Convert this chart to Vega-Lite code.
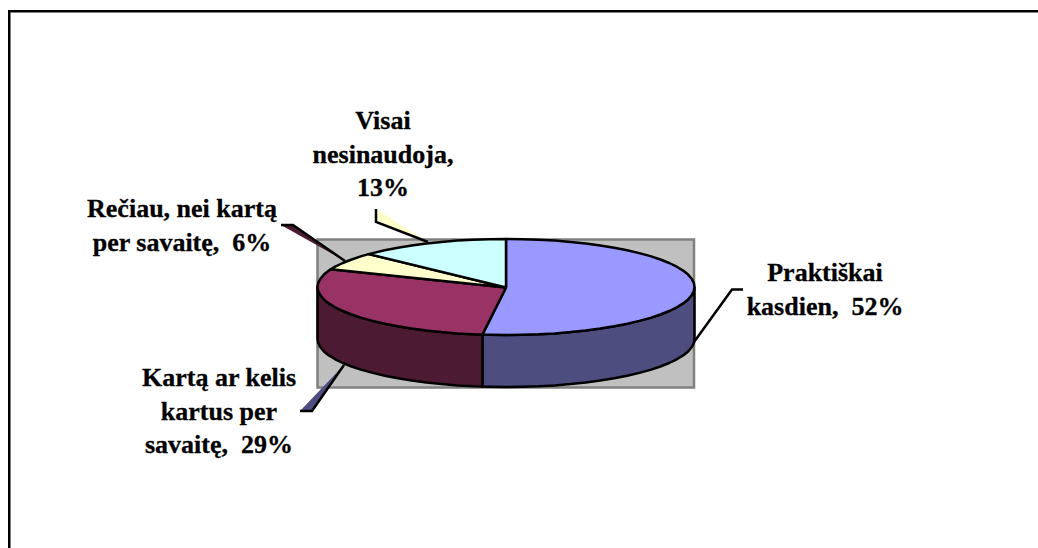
{"$schema":"https://vega.github.io/schema/vega-lite/v6.json","width":1038,"height":548,"autosize":{"type":"none"},"padding":0,"background":"white","view":{"stroke":null},
"datasets":{
"frame":[{"x":8,"x2":1038,"y":11.25,"y2":11.25},{"x":9.25,"x2":9.25,"y":10,"y2":548}],
"wall":[{"x":317.5,"x2":694,"y":239.5,"y2":387.5}],
"wedges":[
{"s":"Rečiau","i":0,"x":281,"y":225},{"s":"Rečiau","i":1,"x":293,"y":225},{"s":"Rečiau","i":2,"x":345,"y":261},{"s":"Rečiau","i":3,"x":281,"y":225},
{"s":"Visai","i":0,"x":376,"y":209},{"s":"Visai","i":1,"x":376,"y":222},{"s":"Visai","i":2,"x":428,"y":242},{"s":"Visai","i":3,"x":376,"y":209},
{"s":"Kartą","i":0,"x":300,"y":411},{"s":"Kartą","i":1,"x":312,"y":411},{"s":"Kartą","i":2,"x":344,"y":365},{"s":"Kartą","i":3,"x":300,"y":411}],
"leaders":[
{"s":"Praktiškai","i":0,"x":694,"y":342},{"s":"Praktiškai","i":1,"x":732,"y":289.5},{"s":"Praktiškai","i":2,"x":743,"y":289.5},
{"s":"Rečiau","i":0,"x":281,"y":225},{"s":"Rečiau","i":1,"x":293,"y":225},{"s":"Rečiau","i":2,"x":345,"y":261},
{"s":"Visai","i":0,"x":376,"y":209},{"s":"Visai","i":1,"x":376,"y":222},{"s":"Visai","i":2,"x":428,"y":242},
{"s":"Kartą","i":0,"x":300,"y":411},{"s":"Kartą","i":1,"x":312,"y":411},{"s":"Kartą","i":2,"x":344,"y":365}],
"sides":[
{"s":"Praktiškai kasdien","i":0,"x":694.5,"y":287},{"s":"Praktiškai kasdien","i":1,"x":693.8,"y":291.2},{"s":"Praktiškai kasdien","i":2,"x":691.6,"y":295.3},{"s":"Praktiškai kasdien","i":3,"x":688.1,"y":299.4},{"s":"Praktiškai kasdien","i":4,"x":683.1,"y":303.4},{"s":"Praktiškai kasdien","i":5,"x":676.8,"y":307.3},{"s":"Praktiškai kasdien","i":6,"x":669.2,"y":311},{"s":"Praktiškai kasdien","i":7,"x":660.4,"y":314.5},{"s":"Praktiškai kasdien","i":8,"x":650.4,"y":317.9},{"s":"Praktiškai kasdien","i":9,"x":639.3,"y":320.9},{"s":"Praktiškai kasdien","i":10,"x":627.2,"y":323.8},{"s":"Praktiškai kasdien","i":11,"x":614.1,"y":326.3},{"s":"Praktiškai kasdien","i":12,"x":600.3,"y":328.6},{"s":"Praktiškai kasdien","i":13,"x":585.7,"y":330.5},{"s":"Praktiškai kasdien","i":14,"x":570.5,"y":332.1},{"s":"Praktiškai kasdien","i":15,"x":554.8,"y":333.4},{"s":"Praktiškai kasdien","i":16,"x":538.7,"y":334.3},{"s":"Praktiškai kasdien","i":17,"x":522.4,"y":334.8},{"s":"Praktiškai kasdien","i":18,"x":506,"y":335},{"s":"Praktiškai kasdien","i":19,"x":489.6,"y":334.8},{"s":"Praktiškai kasdien","i":20,"x":482.4,"y":334.6},
{"s":"Praktiškai kasdien","i":21,"x":482.4,"y":386.6},{"s":"Praktiškai kasdien","i":22,"x":489.6,"y":386.8},{"s":"Praktiškai kasdien","i":23,"x":506,"y":387},{"s":"Praktiškai kasdien","i":24,"x":522.4,"y":386.8},{"s":"Praktiškai kasdien","i":25,"x":538.7,"y":386.3},{"s":"Praktiškai kasdien","i":26,"x":554.8,"y":385.4},{"s":"Praktiškai kasdien","i":27,"x":570.5,"y":384.1},{"s":"Praktiškai kasdien","i":28,"x":585.7,"y":382.5},{"s":"Praktiškai kasdien","i":29,"x":600.3,"y":380.6},{"s":"Praktiškai kasdien","i":30,"x":614.1,"y":378.3},{"s":"Praktiškai kasdien","i":31,"x":627.2,"y":375.8},{"s":"Praktiškai kasdien","i":32,"x":639.3,"y":372.9},{"s":"Praktiškai kasdien","i":33,"x":650.4,"y":369.9},{"s":"Praktiškai kasdien","i":34,"x":660.4,"y":366.5},{"s":"Praktiškai kasdien","i":35,"x":669.2,"y":363},{"s":"Praktiškai kasdien","i":36,"x":676.8,"y":359.3},{"s":"Praktiškai kasdien","i":37,"x":683.1,"y":355.4},{"s":"Praktiškai kasdien","i":38,"x":688.1,"y":351.4},{"s":"Praktiškai kasdien","i":39,"x":691.6,"y":347.3},{"s":"Praktiškai kasdien","i":40,"x":693.8,"y":343.2},{"s":"Praktiškai kasdien","i":41,"x":694.5,"y":339},{"s":"Praktiškai kasdien","i":42,"x":694.5,"y":287},
{"s":"Kartą ar kelis kartus per savaitę","i":0,"x":482.4,"y":334.6},{"s":"Kartą ar kelis kartus per savaitę","i":1,"x":473.3,"y":334.3},{"s":"Kartą ar kelis kartus per savaitę","i":2,"x":457.2,"y":333.4},{"s":"Kartą ar kelis kartus per savaitę","i":3,"x":441.5,"y":332.1},{"s":"Kartą ar kelis kartus per savaitę","i":4,"x":426.3,"y":330.5},{"s":"Kartą ar kelis kartus per savaitę","i":5,"x":411.7,"y":328.6},{"s":"Kartą ar kelis kartus per savaitę","i":6,"x":397.9,"y":326.3},{"s":"Kartą ar kelis kartus per savaitę","i":7,"x":384.8,"y":323.8},{"s":"Kartą ar kelis kartus per savaitę","i":8,"x":372.7,"y":320.9},{"s":"Kartą ar kelis kartus per savaitę","i":9,"x":361.6,"y":317.9},{"s":"Kartą ar kelis kartus per savaitę","i":10,"x":351.6,"y":314.5},{"s":"Kartą ar kelis kartus per savaitę","i":11,"x":342.8,"y":311},{"s":"Kartą ar kelis kartus per savaitę","i":12,"x":335.2,"y":307.3},{"s":"Kartą ar kelis kartus per savaitę","i":13,"x":328.9,"y":303.4},{"s":"Kartą ar kelis kartus per savaitę","i":14,"x":323.9,"y":299.4},{"s":"Kartą ar kelis kartus per savaitę","i":15,"x":320.4,"y":295.3},{"s":"Kartą ar kelis kartus per savaitę","i":16,"x":318.2,"y":291.2},{"s":"Kartą ar kelis kartus per savaitę","i":17,"x":317.5,"y":287},
{"s":"Kartą ar kelis kartus per savaitę","i":18,"x":317.5,"y":339},{"s":"Kartą ar kelis kartus per savaitę","i":19,"x":318.2,"y":343.2},{"s":"Kartą ar kelis kartus per savaitę","i":20,"x":320.4,"y":347.3},{"s":"Kartą ar kelis kartus per savaitę","i":21,"x":323.9,"y":351.4},{"s":"Kartą ar kelis kartus per savaitę","i":22,"x":328.9,"y":355.4},{"s":"Kartą ar kelis kartus per savaitę","i":23,"x":335.2,"y":359.3},{"s":"Kartą ar kelis kartus per savaitę","i":24,"x":342.8,"y":363},{"s":"Kartą ar kelis kartus per savaitę","i":25,"x":351.6,"y":366.5},{"s":"Kartą ar kelis kartus per savaitę","i":26,"x":361.6,"y":369.9},{"s":"Kartą ar kelis kartus per savaitę","i":27,"x":372.7,"y":372.9},{"s":"Kartą ar kelis kartus per savaitę","i":28,"x":384.8,"y":375.8},{"s":"Kartą ar kelis kartus per savaitę","i":29,"x":397.9,"y":378.3},{"s":"Kartą ar kelis kartus per savaitę","i":30,"x":411.7,"y":380.6},{"s":"Kartą ar kelis kartus per savaitę","i":31,"x":426.3,"y":382.5},{"s":"Kartą ar kelis kartus per savaitę","i":32,"x":441.5,"y":384.1},{"s":"Kartą ar kelis kartus per savaitę","i":33,"x":457.2,"y":385.4},{"s":"Kartą ar kelis kartus per savaitę","i":34,"x":473.3,"y":386.3},{"s":"Kartą ar kelis kartus per savaitę","i":35,"x":482.4,"y":386.6},{"s":"Kartą ar kelis kartus per savaitę","i":36,"x":482.4,"y":334.6}],
"tops":[
{"s":"Praktiškai kasdien","i":0,"x":506,"y":287.5},{"s":"Praktiškai kasdien","i":1,"x":506,"y":239},{"s":"Praktiškai kasdien","i":2,"x":522.4,"y":239.2},{"s":"Praktiškai kasdien","i":3,"x":538.7,"y":239.7},{"s":"Praktiškai kasdien","i":4,"x":554.8,"y":240.6},{"s":"Praktiškai kasdien","i":5,"x":570.5,"y":241.9},{"s":"Praktiškai kasdien","i":6,"x":585.7,"y":243.5},{"s":"Praktiškai kasdien","i":7,"x":600.3,"y":245.4},{"s":"Praktiškai kasdien","i":8,"x":614.1,"y":247.7},{"s":"Praktiškai kasdien","i":9,"x":627.2,"y":250.2},{"s":"Praktiškai kasdien","i":10,"x":639.3,"y":253.1},{"s":"Praktiškai kasdien","i":11,"x":650.4,"y":256.1},{"s":"Praktiškai kasdien","i":12,"x":660.4,"y":259.5},{"s":"Praktiškai kasdien","i":13,"x":669.2,"y":263},{"s":"Praktiškai kasdien","i":14,"x":676.8,"y":266.7},{"s":"Praktiškai kasdien","i":15,"x":683.1,"y":270.6},{"s":"Praktiškai kasdien","i":16,"x":688.1,"y":274.6},{"s":"Praktiškai kasdien","i":17,"x":691.6,"y":278.7},{"s":"Praktiškai kasdien","i":18,"x":693.8,"y":282.8},{"s":"Praktiškai kasdien","i":19,"x":694.5,"y":287},{"s":"Praktiškai kasdien","i":20,"x":693.8,"y":291.2},{"s":"Praktiškai kasdien","i":21,"x":691.6,"y":295.3},{"s":"Praktiškai kasdien","i":22,"x":688.1,"y":299.4},{"s":"Praktiškai kasdien","i":23,"x":683.1,"y":303.4},{"s":"Praktiškai kasdien","i":24,"x":676.8,"y":307.3},{"s":"Praktiškai kasdien","i":25,"x":669.2,"y":311},{"s":"Praktiškai kasdien","i":26,"x":660.4,"y":314.5},{"s":"Praktiškai kasdien","i":27,"x":650.4,"y":317.9},{"s":"Praktiškai kasdien","i":28,"x":639.3,"y":320.9},{"s":"Praktiškai kasdien","i":29,"x":627.2,"y":323.8},{"s":"Praktiškai kasdien","i":30,"x":614.1,"y":326.3},{"s":"Praktiškai kasdien","i":31,"x":600.3,"y":328.6},{"s":"Praktiškai kasdien","i":32,"x":585.7,"y":330.5},{"s":"Praktiškai kasdien","i":33,"x":570.5,"y":332.1},{"s":"Praktiškai kasdien","i":34,"x":554.8,"y":333.4},{"s":"Praktiškai kasdien","i":35,"x":538.7,"y":334.3},{"s":"Praktiškai kasdien","i":36,"x":522.4,"y":334.8},{"s":"Praktiškai kasdien","i":37,"x":506,"y":335},{"s":"Praktiškai kasdien","i":38,"x":489.6,"y":334.8},{"s":"Praktiškai kasdien","i":39,"x":482.4,"y":334.6},{"s":"Praktiškai kasdien","i":40,"x":506,"y":287.5},
{"s":"Kartą ar kelis kartus per savaitę","i":0,"x":506,"y":287.5},{"s":"Kartą ar kelis kartus per savaitę","i":1,"x":482.4,"y":334.6},{"s":"Kartą ar kelis kartus per savaitę","i":2,"x":473.3,"y":334.3},{"s":"Kartą ar kelis kartus per savaitę","i":3,"x":457.2,"y":333.4},{"s":"Kartą ar kelis kartus per savaitę","i":4,"x":441.5,"y":332.1},{"s":"Kartą ar kelis kartus per savaitę","i":5,"x":426.3,"y":330.5},{"s":"Kartą ar kelis kartus per savaitę","i":6,"x":411.7,"y":328.6},{"s":"Kartą ar kelis kartus per savaitę","i":7,"x":397.9,"y":326.3},{"s":"Kartą ar kelis kartus per savaitę","i":8,"x":384.8,"y":323.8},{"s":"Kartą ar kelis kartus per savaitę","i":9,"x":372.7,"y":320.9},{"s":"Kartą ar kelis kartus per savaitę","i":10,"x":361.6,"y":317.9},{"s":"Kartą ar kelis kartus per savaitę","i":11,"x":351.6,"y":314.5},{"s":"Kartą ar kelis kartus per savaitę","i":12,"x":342.8,"y":311},{"s":"Kartą ar kelis kartus per savaitę","i":13,"x":335.2,"y":307.3},{"s":"Kartą ar kelis kartus per savaitę","i":14,"x":328.9,"y":303.4},{"s":"Kartą ar kelis kartus per savaitę","i":15,"x":323.9,"y":299.4},{"s":"Kartą ar kelis kartus per savaitę","i":16,"x":320.4,"y":295.3},{"s":"Kartą ar kelis kartus per savaitę","i":17,"x":318.2,"y":291.2},{"s":"Kartą ar kelis kartus per savaitę","i":18,"x":317.5,"y":287},{"s":"Kartą ar kelis kartus per savaitę","i":19,"x":318.2,"y":282.8},{"s":"Kartą ar kelis kartus per savaitę","i":20,"x":320.4,"y":278.7},{"s":"Kartą ar kelis kartus per savaitę","i":21,"x":323.9,"y":274.6},{"s":"Kartą ar kelis kartus per savaitę","i":22,"x":328.9,"y":270.6},{"s":"Kartą ar kelis kartus per savaitę","i":23,"x":330.7,"y":269.3},{"s":"Kartą ar kelis kartus per savaitę","i":24,"x":506,"y":287.5},
{"s":"Rečiau, nei kartą per savaitę","i":0,"x":506,"y":287.5},{"s":"Rečiau, nei kartą per savaitę","i":1,"x":330.7,"y":269.3},{"s":"Rečiau, nei kartą per savaitę","i":2,"x":335.2,"y":266.7},{"s":"Rečiau, nei kartą per savaitę","i":3,"x":342.8,"y":263},{"s":"Rečiau, nei kartą per savaitę","i":4,"x":351.6,"y":259.5},{"s":"Rečiau, nei kartą per savaitę","i":5,"x":361.6,"y":256.1},{"s":"Rečiau, nei kartą per savaitę","i":6,"x":368.6,"y":254.1},{"s":"Rečiau, nei kartą per savaitę","i":7,"x":506,"y":287.5},
{"s":"Visai nesinaudoja","i":0,"x":506,"y":287.5},{"s":"Visai nesinaudoja","i":1,"x":368.6,"y":254.1},{"s":"Visai nesinaudoja","i":2,"x":372.7,"y":253.1},{"s":"Visai nesinaudoja","i":3,"x":384.8,"y":250.2},{"s":"Visai nesinaudoja","i":4,"x":397.9,"y":247.7},{"s":"Visai nesinaudoja","i":5,"x":411.7,"y":245.4},{"s":"Visai nesinaudoja","i":6,"x":426.3,"y":243.5},{"s":"Visai nesinaudoja","i":7,"x":441.5,"y":241.9},{"s":"Visai nesinaudoja","i":8,"x":457.2,"y":240.6},{"s":"Visai nesinaudoja","i":9,"x":473.3,"y":239.7},{"s":"Visai nesinaudoja","i":10,"x":489.6,"y":239.2},{"s":"Visai nesinaudoja","i":11,"x":506,"y":239},{"s":"Visai nesinaudoja","i":12,"x":506,"y":287.5}],
"labels":[
{"t":"Visai\nnesinaudoja,\n13%","x":383,"y":129},
{"t":"Rečiau, nei kartą\nper savaitę,\u00a0 6%","x":182,"y":217},
{"t":"Kartą ar kelis\nkartus per\nsavaitę,\u00a0 29%","x":219,"y":386},
{"t":"Praktiškai\nkasdien,\u00a0 52%","x":825,"y":281}]
},
"encoding":{
"x":{"field":"x","type":"quantitative","axis":null,"scale":{"domain":[0,1038],"nice":false,"zero":false}},
"y":{"field":"y","type":"quantitative","axis":null,"scale":{"domain":[548,0],"nice":false,"zero":false}}
},
"layer":[
{"data":{"name":"frame"},"mark":{"type":"rule","color":"black","strokeWidth":2.5},"encoding":{"x2":{"field":"x2"},"y2":{"field":"y2"}}},
{"data":{"name":"wall"},"mark":{"type":"rect","fill":"#C0C0C0","stroke":"#808080","strokeWidth":2.5},"encoding":{"x2":{"field":"x2"},"y2":{"field":"y2"}}},
{"data":{"name":"wedges"},"mark":{"type":"line","strokeWidth":0,"filled":true},"encoding":{"order":{"field":"i","type":"quantitative"},"fill":{"field":"s","type":"nominal","legend":null,"scale":{"domain":["Rečiau","Visai","Kartą"],"range":["#4D1A33","#FFFFCC","#4D4D80"]}}}},
{"data":{"name":"leaders"},"mark":{"type":"line","stroke":"black","strokeWidth":2.5,"strokeJoin":"miter"},"encoding":{"order":{"field":"i","type":"quantitative"},"detail":{"field":"s","type":"nominal"}}},
{"data":{"name":"sides"},"mark":{"type":"line","stroke":"black","strokeWidth":2.5,"strokeJoin":"round","filled":true},"encoding":{"order":{"field":"i","type":"quantitative"},"fill":{"field":"s","type":"nominal","legend":null,"scale":{"domain":["Praktiškai kasdien","Kartą ar kelis kartus per savaitę"],"range":["#4D4D80","#4D1A33"]}}}},
{"data":{"name":"tops"},"mark":{"type":"line","stroke":"black","strokeWidth":2.5,"strokeJoin":"round","filled":true},"encoding":{"order":{"field":"i","type":"quantitative"},"fill":{"field":"s","type":"nominal","legend":null,"scale":{"domain":["Praktiškai kasdien","Kartą ar kelis kartus per savaitę","Rečiau, nei kartą per savaitę","Visai nesinaudoja"],"range":["#9999FF","#993366","#FFFFCC","#CCFFFF"]}}}},
{"data":{"name":"labels"},"mark":{"type":"text","font":"Liberation Serif","fontWeight":"bold","fontSize":26,"lineBreak":"\n","lineHeight":33.5,"align":"center","baseline":"alphabetic","color":"black","stroke":"black","strokeWidth":0.3},"encoding":{"text":{"field":"t","type":"nominal"}}}
],
"resolve":{"scale":{"fill":"independent"}},
"config":{"style":{"cell":{"stroke":null}}}
}
